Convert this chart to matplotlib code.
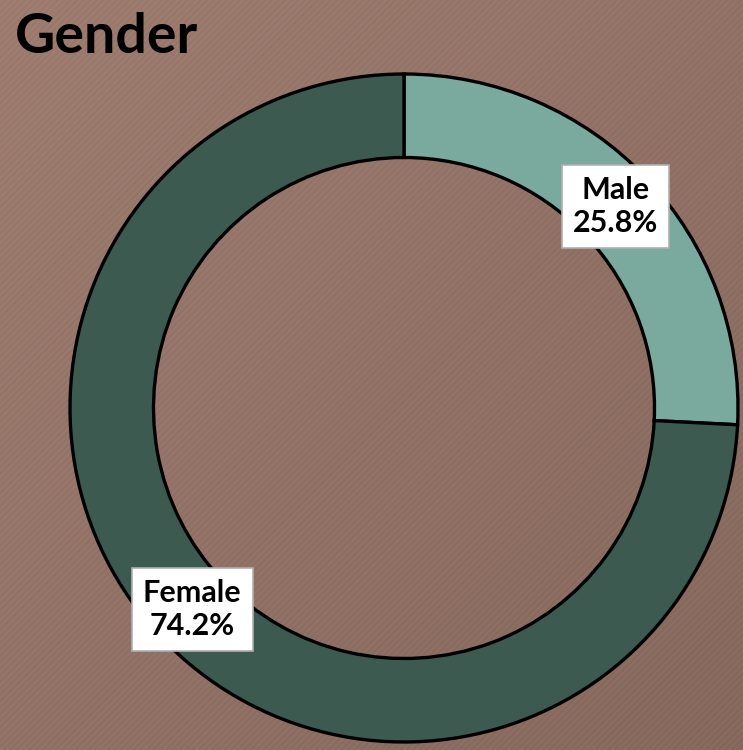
import numpy as np
import matplotlib
matplotlib.use("Agg")
import matplotlib.pyplot as plt

# data
labels = ["Male", "Female"]
shares = [25.8, 74.2]
colors = ["#7aa99e", "#3d5a50"]

W, H, DPI = 743, 750, 100
cx, cy, R = 404, 408, 334  # ring centre / radius in pixels

fig = plt.figure(figsize=(W / DPI, H / DPI), dpi=DPI)

# textured brown background (gradient + faint diagonal stripes)
yy, xx = np.mgrid[0:H, 0:W]
t = (xx / W + yy / H) / 2
top = np.array([158, 124, 112]) / 255
bot = np.array([134, 104, 93]) / 255
bg = top[None, None, :] * (1 - t[..., None]) + bot[None, None, :] * t[..., None]
stripe = 0.012 * np.sin(2 * np.pi * (xx + yy) / 6.5)
bg = np.clip(bg + stripe[..., None], 0, 1)
bax = fig.add_axes([0, 0, 1, 1])
bax.imshow(bg, extent=[0, W, H, 0], aspect="auto", interpolation="nearest")
bax.axis("off")

ax = fig.add_axes([0, 0, 1, 1])
ax.patch.set_alpha(0)

width = 0.25
wedges, _ = ax.pie(shares, colors=colors, startangle=90, counterclock=False,
                   radius=1, wedgeprops=dict(width=width, edgecolor="black", linewidth=2.4))

# pie() resets the limits, so set them afterwards
ax.set_xlim(-cx / R, (W - cx) / R)
ax.set_ylim(-(H - cy) / R, cy / R)
ax.set_aspect("equal")
ax.axis("off")

font = "Lato"
start = 90
for lab, val in zip(labels, shares):
    mid = np.deg2rad(start - val * 3.6 / 2)
    start -= val * 3.6
    r = 1 - width / 2
    ax.text(r * np.cos(mid), r * np.sin(mid), f"{lab}\n{val:.1f}%",
            ha="center", va="center", fontsize=22, fontweight="bold", family=font,
            linespacing=1.2,
            bbox=dict(boxstyle="square,pad=0.36", fc="white", ec="#b0b0b0", lw=1.2))

fig.text(15 / W, 1 - 37 / H, "Gender", ha="left", va="center", fontsize=40,
         fontweight="bold", family=font, color="black")

fig.savefig("out.png", dpi=DPI)
